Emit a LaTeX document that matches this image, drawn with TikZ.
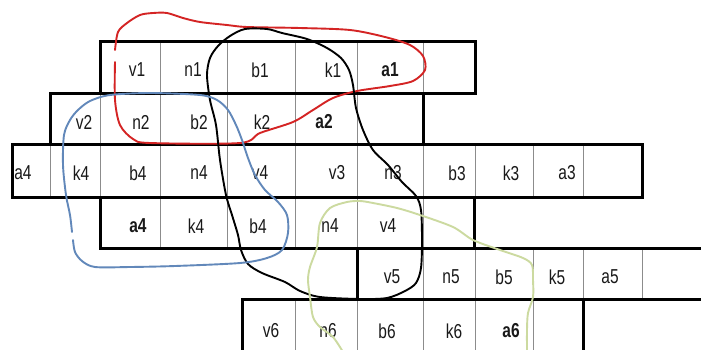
\documentclass[tikz,border=0pt]{standalone}
\usepackage{fontspec}
\setmainfont{Liberation Sans}
\definecolor{redpen}{RGB}{212,36,36}
\definecolor{bluepen}{RGB}{98,136,186}
\definecolor{greenpen}{RGB}{204,218,160}
\definecolor{sepgray}{RGB}{140,140,140}
\begin{document}
\begin{tikzpicture}[x=1pt,y=-1pt,
    rowbox/.style={line width=3pt},
    cellsep/.style={line width=0.7pt, draw=sepgray},
    lbl/.style={font=\fontsize{15.5}{15.5}\selectfont, text=black!90, inner sep=0pt, yscale=1.3, transform shape},
    pen/.style={line width=1.9pt, line cap=round, line join=round}]
    \useasboundingbox (0,0) rectangle (701,349);
    \fill[white] (0,0) rectangle (701,349);
    \clip (0,0) rectangle (701,349);
    % cell separators
    \foreach \x in {160,227,295,357,423} \draw[cellsep] (\x,41) -- (\x,93);
    \foreach \x in {100,160,227,295,357} \draw[cellsep] (\x,93) -- (\x,144);
    \foreach \x in {50,100,160,227,295,357,423,475,533,583} \draw[cellsep] (\x,144) -- (\x,197);
    \foreach \x in {160,227,295,357,423} \draw[cellsep] (\x,197) -- (\x,248);
    \foreach \x in {423,475,533,583,642} \draw[cellsep] (\x,248) -- (\x,299);
    \foreach \x in {295,357,423,475,533} \draw[cellsep] (\x,299) -- (\x,360);
    % rows
    \draw[rowbox] (100,41) rectangle (475,93);
    \draw[rowbox] (50,93) rectangle (423,144);
    \draw[rowbox] (12,144) rectangle (642,197);
    \draw[rowbox] (100,197) rectangle (474,248);
    \draw[rowbox] (357,248) rectangle (720,299);
    \draw[rowbox] (242,299) rectangle (583,360);
    % labels
    \foreach \x/\t [count=\i] in {137/v1, 193/n1, 260/b1, 333/k1, 390/\textbf{a1}}
        \node[lbl] (ra\i) at (\x,70) {\t};
    \foreach \x/\t [count=\i] in {84/v2, 141/n2, 199/b2, 262/k2, 324/\textbf{a2}}
        \node[lbl] (rb\i) at (\x,122) {\t};
    \foreach \x/\t [count=\i] in {23/a4, 81/k4, 138/b4, 199/n4, 260/v4, 337/v3, 393/n3, 457/b3, 511/k3, 567/a3}
        \node[lbl] (rc\i) at (\x,173) {\t};
    \foreach \x/\t [count=\i] in {138/\textbf{a4}, 196/k4, 258/b4, 330/n4, 388/v4}
        \node[lbl] (rd\i) at (\x,226) {\t};
    \foreach \x/\t [count=\i] in {392/v5, 451/n5, 504/b5, 557/k5, 610/a5}
        \node[lbl] (re\i) at (\x,277) {\t};
    \foreach \x/\t [count=\i] in {271/v6, 328/n6, 387/b6, 454/k6, 511/\textbf{a6}}
        \node[lbl] (rf\i) at (\x,331) {\t};
    % hand drawn loops
    \draw[pen, redpen] plot[smooth, tension=0.5] coordinates {(115,62) (115,100) (120,125) (133,139) (150,143) (240,143) (260,133) (293,122) (313,110) (333,98) (357,91) (390,86) (413,81) (425,70) (423,56) (410,45) (385,37) (350,30) (300,28) (247,27) (227,25) (200,22) (183,18) (167,13) (153,13) (140,15) (127,23) (118,32) (115,50)};
    \draw[pen, black] plot[smooth cycle, tension=0.5] coordinates {(210,100) (207,75) (210,58) (218,46) (230,36) (245,29) (267,29) (282,33) (307,39) (327,48) (341,58) (349,70) (353,85) (356,108) (363,130) (373,150) (388,165) (402,182) (416,196) (421,210) (422,240) (421,268) (416,283) (405,291) (387,298) (360,299) (320,297) (300,291) (285,282) (262,273) (248,264) (241,250) (238,235) (232,215) (226,195) (220,160) (216,125)};
    \draw[pen, bluepen] plot[smooth, tension=0.5] coordinates {(73,240) (75,252) (82,261) (95,267) (130,267) (175,266) (240,263) (267,258) (282,250) (288,233) (287,215) (278,202) (265,190) (255,175) (248,158) (242,140) (236,125) (228,110) (217,100) (200,95) (150,93) (110,95) (90,101) (78,110) (70,120) (64,135) (63,165) (66,195) (70,215) (72,232)};
    \draw[pen, greenpen] plot[smooth, tension=0.5] coordinates {(343,352) (333,337) (320,327) (313,317) (310,297) (308,280) (310,267) (317,247) (320,223) (330,208) (347,202) (360,201) (373,203) (397,208) (420,215) (453,227) (473,240) (500,250) (523,258) (532,265) (533,280) (533,297) (528,313) (527,330) (527,352)};
\end{tikzpicture}
\end{document}
